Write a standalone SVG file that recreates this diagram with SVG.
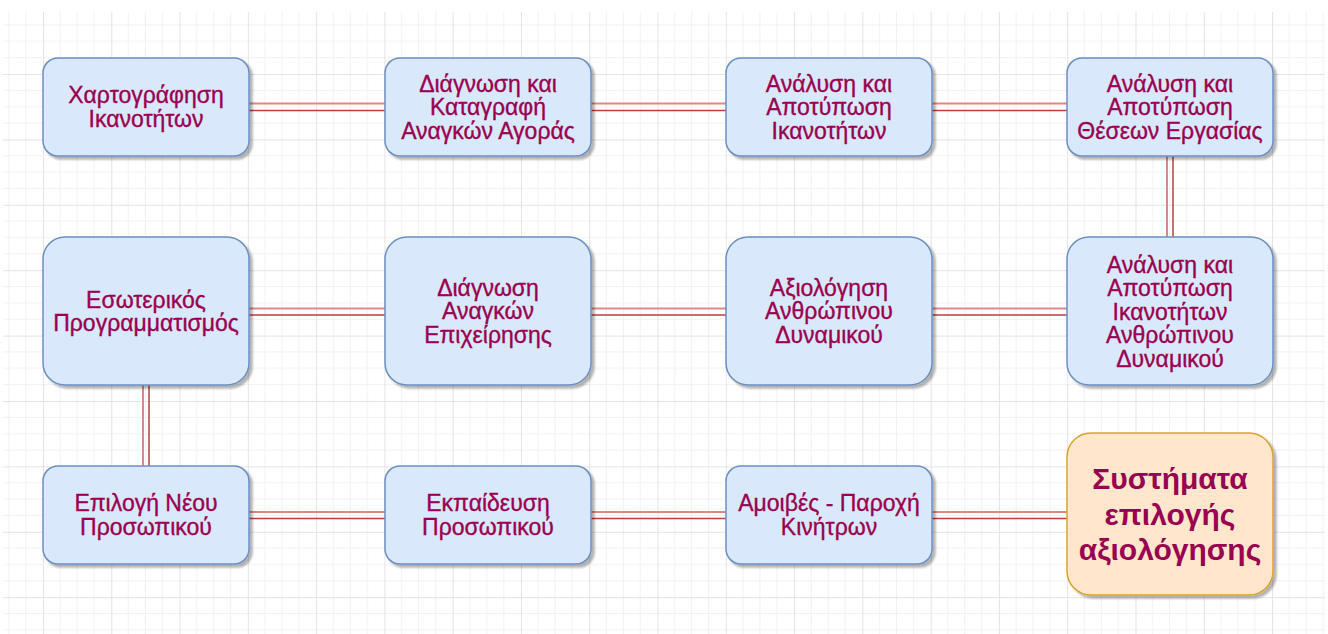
<svg xmlns="http://www.w3.org/2000/svg" width="1328" height="634" viewBox="0 0 1328 634">
  <defs>
    <!-- background grid: 4 minor cells per major cell -->
    <pattern id="grid" x="43" y="74" width="68.28" height="65.4" patternUnits="userSpaceOnUse">
      <g stroke="#f1f1f1" stroke-width="1" fill="none">
        <line x1="17.07" y1="0" x2="17.07" y2="65.4"/>
        <line x1="34.14" y1="0" x2="34.14" y2="65.4"/>
        <line x1="51.21" y1="0" x2="51.21" y2="65.4"/>
        <line x1="0" y1="16.35" x2="68.28" y2="16.35"/>
        <line x1="0" y1="32.7" x2="68.28" y2="32.7"/>
        <line x1="0" y1="49.05" x2="68.28" y2="49.05"/>
      </g>
      <g stroke="#e4e4e4" stroke-width="1" fill="none">
        <line x1="0.5" y1="0" x2="0.5" y2="65.4"/>
        <line x1="0" y1="0.5" x2="68.28" y2="0.5"/>
      </g>
    </pattern>
    <filter id="shadow" x="-10%" y="-10%" width="125%" height="125%">
      <feGaussianBlur in="SourceAlpha" stdDeviation="1.2"/>
      <feOffset dx="3" dy="3" result="off"/>
      <feComponentTransfer><feFuncA type="linear" slope="0.3"/></feComponentTransfer>
      <feMerge><feMergeNode/><feMergeNode in="SourceGraphic"/></feMerge>
    </filter>
  </defs>
  <style>
    .box { fill: #dae8fc; stroke: #6c8ebf; stroke-width: 1.5; filter: url(#shadow); }
    .goal { fill: #ffe6cc; stroke: #d6a52b; stroke-width: 1.5; filter: url(#shadow); }
    .lbl { font-family: "Liberation Sans", Arial, sans-serif; font-size: 23px; fill: #990050; stroke: #990050; stroke-width: 0.35; text-anchor: middle; }
    .big { font-family: "Liberation Sans", Arial, sans-serif; font-size: 30px; font-weight: bold; fill: #990050; text-anchor: middle; }
    .lt { stroke: #d98a88; stroke-width: 2; fill: none; }
    .dk { stroke: #b8403e; stroke-width: 1.5; fill: none; }
  </style>

  <rect x="0" y="0" width="1328" height="634" fill="#ffffff"/>
  <rect x="3" y="12" width="1322" height="622" fill="url(#grid)"/>

  <!-- double-line links between the stages -->
  <g id="connectors">
    <line class="lt" x1="249" y1="103.5" x2="385" y2="103.5"/><line class="dk" x1="249" y1="110.5" x2="385" y2="110.5"/>
    <line class="lt" x1="591" y1="103.5" x2="726" y2="103.5"/><line class="dk" x1="591" y1="110.5" x2="726" y2="110.5"/>
    <line class="lt" x1="932" y1="103.5" x2="1067" y2="103.5"/><line class="dk" x1="932" y1="110.5" x2="1067" y2="110.5"/>

    <line class="lt" x1="1167" y1="156" x2="1167" y2="237"/><line class="dk" x1="1173" y1="156" x2="1173" y2="237"/>

    <line class="lt" x1="249" y1="308.5" x2="385" y2="308.5"/><line class="dk" x1="249" y1="315" x2="385" y2="315"/>
    <line class="lt" x1="591" y1="308.5" x2="726" y2="308.5"/><line class="dk" x1="591" y1="315" x2="726" y2="315"/>
    <line class="lt" x1="932" y1="308.5" x2="1067" y2="308.5"/><line class="dk" x1="932" y1="315" x2="1067" y2="315"/>

    <line class="lt" x1="143" y1="385" x2="143" y2="466"/><line class="dk" x1="149" y1="385" x2="149" y2="466"/>

    <line class="lt" x1="249" y1="512" x2="385" y2="512"/><line class="dk" x1="249" y1="518.5" x2="385" y2="518.5"/>
    <line class="lt" x1="591" y1="512" x2="726" y2="512"/><line class="dk" x1="591" y1="518.5" x2="726" y2="518.5"/>
    <line class="lt" x1="932" y1="512" x2="1067" y2="512"/><line class="dk" x1="932" y1="518.5" x2="1067" y2="518.5"/>
  </g>

  <!-- row 1 -->
  <g id="n1">
    <rect class="box" x="43" y="58" width="206" height="98" rx="15"/>
    <text class="lbl"><tspan x="146" y="103">Χαρτογράφηση</tspan><tspan x="146" y="126.5">Ικανοτήτων</tspan></text>
  </g>
  <g id="n2">
    <rect class="box" x="385" y="58" width="206" height="98" rx="15"/>
    <text class="lbl"><tspan x="488" y="91.5">Διάγνωση και</tspan><tspan x="488" y="115">Καταγραφή</tspan><tspan x="488" y="138.5">Αναγκών Αγοράς</tspan></text>
  </g>
  <g id="n3">
    <rect class="box" x="726" y="58" width="206" height="98" rx="15"/>
    <text class="lbl"><tspan x="829" y="91.5">Ανάλυση και</tspan><tspan x="829" y="115">Αποτύπωση</tspan><tspan x="829" y="138.5">Ικανοτήτων</tspan></text>
  </g>
  <g id="n4">
    <rect class="box" x="1067" y="58" width="206" height="98" rx="15"/>
    <text class="lbl"><tspan x="1170" y="91.5">Ανάλυση και</tspan><tspan x="1170" y="115">Αποτύπωση</tspan><tspan x="1170" y="138.5">Θέσεων Εργασίας</tspan></text>
  </g>

  <!-- row 2 -->
  <g id="n5">
    <rect class="box" x="43" y="237" width="206" height="148" rx="22"/>
    <text class="lbl"><tspan x="146" y="307.5">Εσωτερικός</tspan><tspan x="146" y="331">Προγραμματισμός</tspan></text>
  </g>
  <g id="n6">
    <rect class="box" x="385" y="237" width="206" height="148" rx="22"/>
    <text class="lbl"><tspan x="488" y="295.5">Διάγνωση</tspan><tspan x="488" y="319">Αναγκών</tspan><tspan x="488" y="342.5">Επιχείρησης</tspan></text>
  </g>
  <g id="n7">
    <rect class="box" x="726" y="237" width="206" height="148" rx="22"/>
    <text class="lbl"><tspan x="829" y="295.5">Αξιολόγηση</tspan><tspan x="829" y="319">Ανθρώπινου</tspan><tspan x="829" y="342.5">Δυναμικού</tspan></text>
  </g>
  <g id="n8">
    <rect class="box" x="1067" y="237" width="206" height="148" rx="22"/>
    <text class="lbl"><tspan x="1170" y="272.5">Ανάλυση και</tspan><tspan x="1170" y="296">Αποτύπωση</tspan><tspan x="1170" y="319.5">Ικανοτήτων</tspan><tspan x="1170" y="343">Ανθρώπινου</tspan><tspan x="1170" y="366.5">Δυναμικού</tspan></text>
  </g>

  <!-- row 3 -->
  <g id="n9">
    <rect class="box" x="43" y="466" width="206" height="98" rx="15"/>
    <text class="lbl"><tspan x="146" y="511">Επιλογή Νέου</tspan><tspan x="146" y="534.5">Προσωπικού</tspan></text>
  </g>
  <g id="n10">
    <rect class="box" x="385" y="466" width="206" height="98" rx="15"/>
    <text class="lbl"><tspan x="488" y="511">Εκπαίδευση</tspan><tspan x="488" y="534.5">Προσωπικού</tspan></text>
  </g>
  <g id="n11">
    <rect class="box" x="726" y="466" width="206" height="98" rx="15"/>
    <text class="lbl"><tspan x="829" y="511">Αμοιβές - Παροχή</tspan><tspan x="829" y="534.5">Κινήτρων</tspan></text>
  </g>
  <g id="n12">
    <rect class="goal" x="1067" y="433" width="206" height="162" rx="24"/>
    <text class="big"><tspan x="1170" y="489">Συστήματα</tspan><tspan x="1170" y="524.5">επιλογής</tspan><tspan x="1170" y="560">αξιολόγησης</tspan></text>
  </g>
</svg>
